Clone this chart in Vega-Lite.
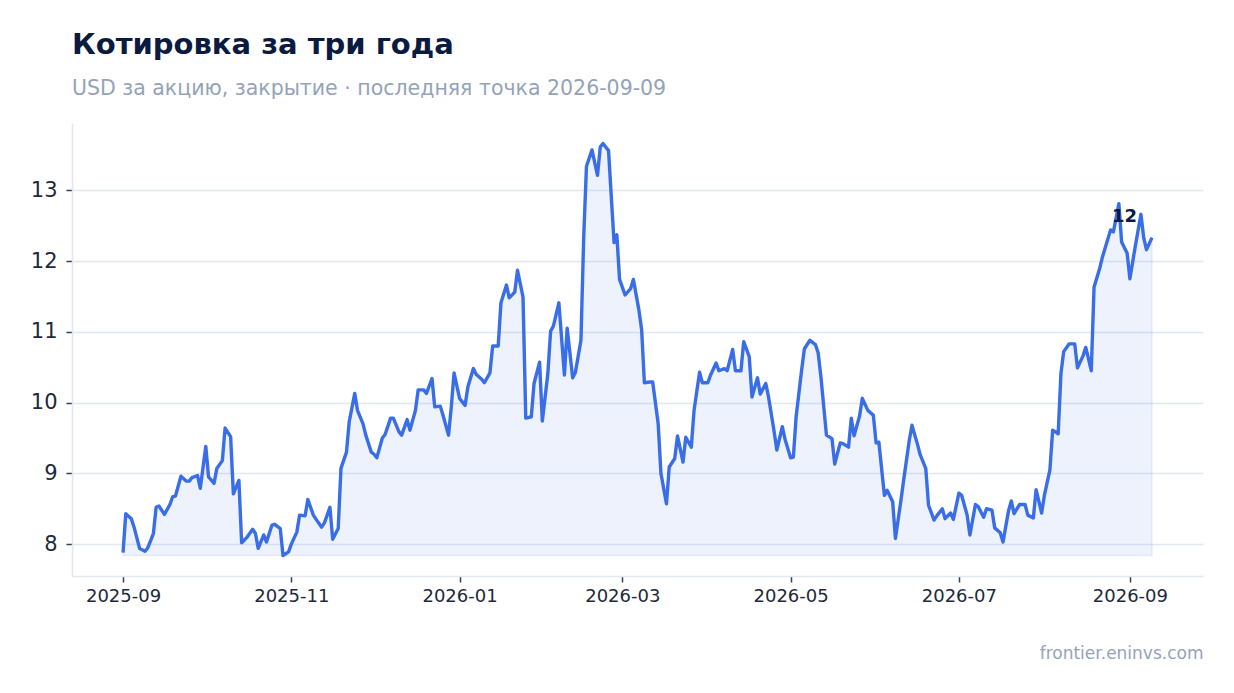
{
  "$schema": "https://vega.github.io/schema/vega-lite/v6.json",
  "width": 1131,
  "height": 453,
  "autosize": {"type": "none"},
  "padding": {"left": 72, "top": 123, "right": 31, "bottom": 117},
  "background": "white",
  "title": {
    "text": "Котировка за три года",
    "subtitle": "USD за акцию, закрытие · последняя точка 2026-09-09",
    "anchor": "start",
    "frame": "group",
    "font": "DejaVu Sans",
    "fontSize": 29,
    "fontWeight": "bold",
    "color": "#0b1a40",
    "subtitleFont": "DejaVu Sans",
    "subtitleFontSize": 20.5,
    "subtitleColor": "#94a3b8",
    "subtitlePadding": 19,
    "offset": 24
  },
  "data": {
    "values": [
      {"date": "2025-09-01", "price": 7.88},
      {"date": "2025-09-02", "price": 8.43},
      {"date": "2025-09-04", "price": 8.36},
      {"date": "2025-09-05", "price": 8.24},
      {"date": "2025-09-07", "price": 7.94},
      {"date": "2025-09-09", "price": 7.90},
      {"date": "2025-09-10", "price": 7.95},
      {"date": "2025-09-12", "price": 8.15},
      {"date": "2025-09-13", "price": 8.52},
      {"date": "2025-09-14", "price": 8.54},
      {"date": "2025-09-16", "price": 8.42},
      {"date": "2025-09-18", "price": 8.56},
      {"date": "2025-09-19", "price": 8.67},
      {"date": "2025-09-20", "price": 8.68},
      {"date": "2025-09-22", "price": 8.96},
      {"date": "2025-09-24", "price": 8.89},
      {"date": "2025-09-25", "price": 8.89},
      {"date": "2025-09-26", "price": 8.94},
      {"date": "2025-09-28", "price": 8.97},
      {"date": "2025-09-29", "price": 8.79},
      {"date": "2025-10-01", "price": 9.38},
      {"date": "2025-10-02", "price": 8.95},
      {"date": "2025-10-04", "price": 8.86},
      {"date": "2025-10-05", "price": 9.07},
      {"date": "2025-10-07", "price": 9.18},
      {"date": "2025-10-08", "price": 9.64},
      {"date": "2025-10-10", "price": 9.52},
      {"date": "2025-10-11", "price": 8.71},
      {"date": "2025-10-13", "price": 8.90},
      {"date": "2025-10-14", "price": 8.02},
      {"date": "2025-10-16", "price": 8.10},
      {"date": "2025-10-18", "price": 8.21},
      {"date": "2025-10-19", "price": 8.15},
      {"date": "2025-10-20", "price": 7.94},
      {"date": "2025-10-22", "price": 8.13},
      {"date": "2025-10-23", "price": 8.03},
      {"date": "2025-10-25", "price": 8.27},
      {"date": "2025-10-26", "price": 8.28},
      {"date": "2025-10-28", "price": 8.22},
      {"date": "2025-10-29", "price": 7.84},
      {"date": "2025-10-31", "price": 7.89},
      {"date": "2025-11-01", "price": 8.00},
      {"date": "2025-11-03", "price": 8.17},
      {"date": "2025-11-04", "price": 8.41},
      {"date": "2025-11-06", "price": 8.40},
      {"date": "2025-11-07", "price": 8.63},
      {"date": "2025-11-09", "price": 8.41},
      {"date": "2025-11-10", "price": 8.35},
      {"date": "2025-11-12", "price": 8.24},
      {"date": "2025-11-13", "price": 8.30},
      {"date": "2025-11-15", "price": 8.52},
      {"date": "2025-11-16", "price": 8.07},
      {"date": "2025-11-18", "price": 8.22},
      {"date": "2025-11-19", "price": 9.07},
      {"date": "2025-11-21", "price": 9.30},
      {"date": "2025-11-22", "price": 9.73},
      {"date": "2025-11-24", "price": 10.13},
      {"date": "2025-11-25", "price": 9.89},
      {"date": "2025-11-27", "price": 9.70},
      {"date": "2025-11-28", "price": 9.54},
      {"date": "2025-11-30", "price": 9.30},
      {"date": "2025-12-01", "price": 9.27},
      {"date": "2025-12-02", "price": 9.22},
      {"date": "2025-12-04", "price": 9.50},
      {"date": "2025-12-05", "price": 9.55},
      {"date": "2025-12-07", "price": 9.78},
      {"date": "2025-12-08", "price": 9.78},
      {"date": "2025-12-10", "price": 9.59},
      {"date": "2025-12-11", "price": 9.54},
      {"date": "2025-12-13", "price": 9.76},
      {"date": "2025-12-14", "price": 9.61},
      {"date": "2025-12-16", "price": 9.89},
      {"date": "2025-12-17", "price": 10.18},
      {"date": "2025-12-19", "price": 10.18},
      {"date": "2025-12-20", "price": 10.13},
      {"date": "2025-12-22", "price": 10.34},
      {"date": "2025-12-23", "price": 9.94},
      {"date": "2025-12-25", "price": 9.95},
      {"date": "2025-12-26", "price": 9.82},
      {"date": "2025-12-28", "price": 9.54},
      {"date": "2025-12-29", "price": 9.94},
      {"date": "2025-12-30", "price": 10.42},
      {"date": "2026-01-01", "price": 10.06},
      {"date": "2026-01-03", "price": 9.96},
      {"date": "2026-01-04", "price": 10.22},
      {"date": "2026-01-06", "price": 10.48},
      {"date": "2026-01-07", "price": 10.40},
      {"date": "2026-01-09", "price": 10.33},
      {"date": "2026-01-10", "price": 10.28},
      {"date": "2026-01-12", "price": 10.42},
      {"date": "2026-01-13", "price": 10.80},
      {"date": "2026-01-15", "price": 10.80},
      {"date": "2026-01-16", "price": 11.41},
      {"date": "2026-01-18", "price": 11.66},
      {"date": "2026-01-19", "price": 11.48},
      {"date": "2026-01-21", "price": 11.56},
      {"date": "2026-01-22", "price": 11.87},
      {"date": "2026-01-24", "price": 11.49},
      {"date": "2026-01-25", "price": 9.78},
      {"date": "2026-01-27", "price": 9.80},
      {"date": "2026-01-28", "price": 10.27},
      {"date": "2026-01-30", "price": 10.57},
      {"date": "2026-01-31", "price": 9.74},
      {"date": "2026-02-02", "price": 10.41},
      {"date": "2026-02-03", "price": 11.01},
      {"date": "2026-02-04", "price": 11.08},
      {"date": "2026-02-06", "price": 11.41},
      {"date": "2026-02-08", "price": 10.39},
      {"date": "2026-02-09", "price": 11.05},
      {"date": "2026-02-11", "price": 10.35},
      {"date": "2026-02-12", "price": 10.43},
      {"date": "2026-02-14", "price": 10.88},
      {"date": "2026-02-15", "price": 12.34},
      {"date": "2026-02-16", "price": 13.34},
      {"date": "2026-02-18", "price": 13.57},
      {"date": "2026-02-20", "price": 13.21},
      {"date": "2026-02-21", "price": 13.61},
      {"date": "2026-02-22", "price": 13.66},
      {"date": "2026-02-24", "price": 13.56},
      {"date": "2026-02-26", "price": 12.26},
      {"date": "2026-02-27", "price": 12.37},
      {"date": "2026-02-28", "price": 11.74},
      {"date": "2026-03-02", "price": 11.52},
      {"date": "2026-03-04", "price": 11.61},
      {"date": "2026-03-05", "price": 11.74},
      {"date": "2026-03-07", "price": 11.31},
      {"date": "2026-03-08", "price": 11.03},
      {"date": "2026-03-09", "price": 10.28},
      {"date": "2026-03-11", "price": 10.29},
      {"date": "2026-03-12", "price": 10.29},
      {"date": "2026-03-14", "price": 9.70},
      {"date": "2026-03-15", "price": 9.00},
      {"date": "2026-03-17", "price": 8.57},
      {"date": "2026-03-18", "price": 9.09},
      {"date": "2026-03-20", "price": 9.21},
      {"date": "2026-03-21", "price": 9.53},
      {"date": "2026-03-23", "price": 9.16},
      {"date": "2026-03-24", "price": 9.51},
      {"date": "2026-03-26", "price": 9.37},
      {"date": "2026-03-27", "price": 9.89},
      {"date": "2026-03-29", "price": 10.43},
      {"date": "2026-03-30", "price": 10.28},
      {"date": "2026-04-01", "price": 10.28},
      {"date": "2026-04-02", "price": 10.39},
      {"date": "2026-04-04", "price": 10.56},
      {"date": "2026-04-05", "price": 10.45},
      {"date": "2026-04-07", "price": 10.48},
      {"date": "2026-04-08", "price": 10.45},
      {"date": "2026-04-10", "price": 10.75},
      {"date": "2026-04-11", "price": 10.45},
      {"date": "2026-04-13", "price": 10.45},
      {"date": "2026-04-14", "price": 10.86},
      {"date": "2026-04-16", "price": 10.65},
      {"date": "2026-04-17", "price": 10.08},
      {"date": "2026-04-19", "price": 10.35},
      {"date": "2026-04-20", "price": 10.12},
      {"date": "2026-04-22", "price": 10.27},
      {"date": "2026-04-23", "price": 10.08},
      {"date": "2026-04-25", "price": 9.60},
      {"date": "2026-04-26", "price": 9.33},
      {"date": "2026-04-28", "price": 9.66},
      {"date": "2026-04-29", "price": 9.48},
      {"date": "2026-05-01", "price": 9.22},
      {"date": "2026-05-02", "price": 9.23},
      {"date": "2026-05-03", "price": 9.80},
      {"date": "2026-05-05", "price": 10.46},
      {"date": "2026-05-06", "price": 10.76},
      {"date": "2026-05-08", "price": 10.88},
      {"date": "2026-05-10", "price": 10.82},
      {"date": "2026-05-11", "price": 10.70},
      {"date": "2026-05-12", "price": 10.36},
      {"date": "2026-05-14", "price": 9.54},
      {"date": "2026-05-16", "price": 9.49},
      {"date": "2026-05-17", "price": 9.13},
      {"date": "2026-05-19", "price": 9.43},
      {"date": "2026-05-20", "price": 9.42},
      {"date": "2026-05-22", "price": 9.37},
      {"date": "2026-05-23", "price": 9.78},
      {"date": "2026-05-24", "price": 9.53},
      {"date": "2026-05-26", "price": 9.81},
      {"date": "2026-05-27", "price": 10.06},
      {"date": "2026-05-29", "price": 9.89},
      {"date": "2026-05-31", "price": 9.82},
      {"date": "2026-06-01", "price": 9.43},
      {"date": "2026-06-02", "price": 9.44},
      {"date": "2026-06-04", "price": 8.69},
      {"date": "2026-06-05", "price": 8.76},
      {"date": "2026-06-07", "price": 8.60},
      {"date": "2026-06-08", "price": 8.08},
      {"date": "2026-06-10", "price": 8.62},
      {"date": "2026-06-11", "price": 8.91},
      {"date": "2026-06-13", "price": 9.46},
      {"date": "2026-06-14", "price": 9.68},
      {"date": "2026-06-16", "price": 9.41},
      {"date": "2026-06-17", "price": 9.26},
      {"date": "2026-06-19", "price": 9.07},
      {"date": "2026-06-20", "price": 8.55},
      {"date": "2026-06-22", "price": 8.34},
      {"date": "2026-06-23", "price": 8.40},
      {"date": "2026-06-25", "price": 8.50},
      {"date": "2026-06-26", "price": 8.36},
      {"date": "2026-06-28", "price": 8.44},
      {"date": "2026-06-29", "price": 8.35},
      {"date": "2026-07-01", "price": 8.72},
      {"date": "2026-07-02", "price": 8.69},
      {"date": "2026-07-04", "price": 8.41},
      {"date": "2026-07-05", "price": 8.13},
      {"date": "2026-07-07", "price": 8.56},
      {"date": "2026-07-08", "price": 8.53},
      {"date": "2026-07-10", "price": 8.38},
      {"date": "2026-07-11", "price": 8.50},
      {"date": "2026-07-13", "price": 8.48},
      {"date": "2026-07-14", "price": 8.23},
      {"date": "2026-07-16", "price": 8.16},
      {"date": "2026-07-17", "price": 8.03},
      {"date": "2026-07-19", "price": 8.47},
      {"date": "2026-07-20", "price": 8.61},
      {"date": "2026-07-21", "price": 8.43},
      {"date": "2026-07-23", "price": 8.56},
      {"date": "2026-07-25", "price": 8.56},
      {"date": "2026-07-26", "price": 8.41},
      {"date": "2026-07-28", "price": 8.37},
      {"date": "2026-07-29", "price": 8.77},
      {"date": "2026-07-31", "price": 8.44},
      {"date": "2026-08-01", "price": 8.69},
      {"date": "2026-08-03", "price": 9.05},
      {"date": "2026-08-04", "price": 9.61},
      {"date": "2026-08-06", "price": 9.56},
      {"date": "2026-08-07", "price": 10.41},
      {"date": "2026-08-08", "price": 10.72},
      {"date": "2026-08-10", "price": 10.83},
      {"date": "2026-08-12", "price": 10.83},
      {"date": "2026-08-13", "price": 10.49},
      {"date": "2026-08-15", "price": 10.66},
      {"date": "2026-08-16", "price": 10.78},
      {"date": "2026-08-18", "price": 10.45},
      {"date": "2026-08-19", "price": 11.63},
      {"date": "2026-08-21", "price": 11.89},
      {"date": "2026-08-22", "price": 12.05},
      {"date": "2026-08-23", "price": 12.18},
      {"date": "2026-08-25", "price": 12.44},
      {"date": "2026-08-26", "price": 12.41},
      {"date": "2026-08-28", "price": 12.81},
      {"date": "2026-08-29", "price": 12.27},
      {"date": "2026-08-31", "price": 12.11},
      {"date": "2026-09-01", "price": 11.75},
      {"date": "2026-09-03", "price": 12.22},
      {"date": "2026-09-05", "price": 12.66},
      {"date": "2026-09-06", "price": 12.33},
      {"date": "2026-09-07", "price": 12.16},
      {"date": "2026-09-09", "price": 12.33}
    ]
  },
  "encoding": {
    "x": {
      "field": "date",
      "type": "temporal",
      "scale": {
        "type": "utc",
        "domain": [
          {"year": 2025, "month": 8, "date": 13, "hours": 12, "utc": true},
          {"year": 2026, "month": 9, "date": 27, "hours": 12, "utc": true}
        ]
      },
      "axis": {
        "values": [
          {"year": 2025, "month": 9, "date": 1, "utc": true},
          {"year": 2025, "month": 11, "date": 1, "utc": true},
          {"year": 2026, "month": 1, "date": 1, "utc": true},
          {"year": 2026, "month": 3, "date": 1, "utc": true},
          {"year": 2026, "month": 5, "date": 1, "utc": true},
          {"year": 2026, "month": 7, "date": 1, "utc": true},
          {"year": 2026, "month": 9, "date": 1, "utc": true}
        ],
        "format": "%Y-%m",
        "labelFontSize": 18,
        "labelColor": "#1e293b",
        "labelPadding": 5,
        "labelFlush": false,
        "labelOverlap": false,
        "tickSize": 6,
        "tickWidth": 1.5,
        "tickColor": "#334155",
        "domainColor": "#e2e8f0",
        "domainWidth": 1.5,
        "grid": false,
        "title": "frontier.eninvs.com",
        "titleAnchor": "end",
        "titleAlign": "right",
        "titleX": 1131,
        "titleY": 82,
        "titleBaseline": "alphabetic",
        "titleFontSize": 17,
        "titleFontWeight": "normal",
        "titleColor": "#94a3b8"
      }
    },
    "y": {
      "field": "price",
      "type": "quantitative",
      "scale": {"domain": [7.55, 13.95], "nice": false, "zero": false},
      "axis": {
        "values": [8, 9, 10, 11, 12, 13],
        "labelFontSize": 21,
        "labelColor": "#1e293b",
        "labelPadding": 9,
        "tickSize": 6,
        "tickWidth": 1.5,
        "tickColor": "#334155",
        "domainColor": "#e2e8f0",
        "domainWidth": 1.5,
        "grid": true,
        "gridColor": "#e2e8f0",
        "gridWidth": 1.5,
        "title": null
      }
    }
  },
  "layer": [
    {
      "transform": [{"joinaggregate": [{"op": "min", "field": "price", "as": "low"}]}],
      "mark": {
        "type": "area",
        "color": "#3a6ee8",
        "fillOpacity": 0.09,
        "stroke": "#3a6ee8",
        "strokeOpacity": 0.1,
        "strokeWidth": 1.5
      },
      "encoding": {"y2": {"field": "low"}}
    },
    {
      "mark": {"type": "line", "color": "#3a6ee8", "strokeWidth": 3.4, "strokeJoin": "round"}
    },
    {
      "transform": [
        {"window": [{"op": "row_number", "as": "rank"}], "sort": [{"field": "date", "order": "descending"}]},
        {"filter": "datum.rank == 1"}
      ],
      "mark": {
        "type": "text",
        "align": "right",
        "baseline": "alphabetic",
        "dx": -15,
        "dy": -16,
        "fontSize": 18,
        "fontWeight": "bold",
        "color": "#0b1a40"
      },
      "encoding": {"text": {"field": "price", "type": "quantitative", "format": ".0f"}}
    }
  ],
  "config": {
    "view": {"stroke": null},
    "font": "DejaVu Sans"
  }
}
